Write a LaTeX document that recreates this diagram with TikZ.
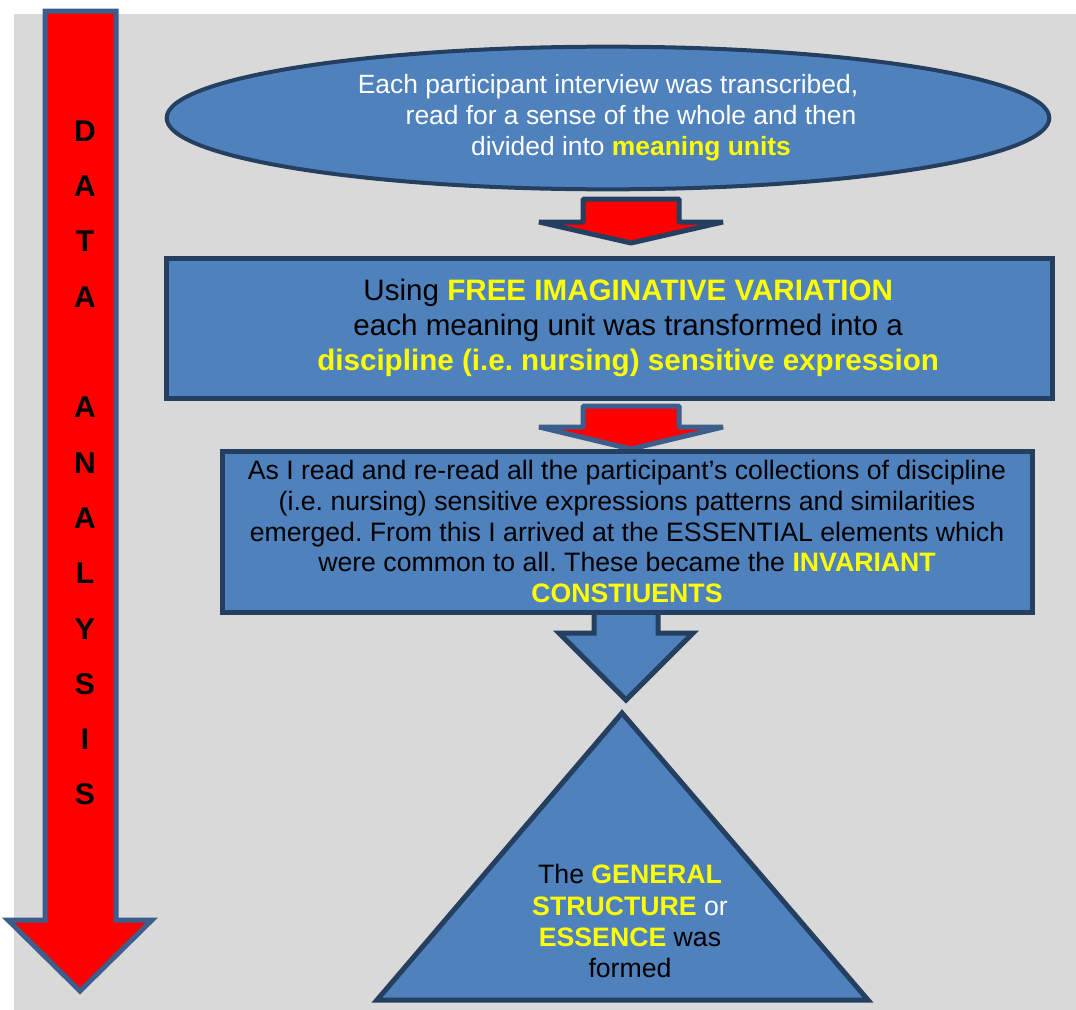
\documentclass[tikz,border=0pt]{standalone}
\usepackage{fontspec}
\setmainfont{Liberation Sans}
\usepackage{tikz}
\usetikzlibrary{shapes.geometric, positioning}
\usepackage{xcolor}
\definecolor{bggray}{HTML}{D9D9D9}
\definecolor{boxblue}{HTML}{4F81BD}
\definecolor{darkline}{HTML}{243F60}
\definecolor{midline}{HTML}{3B5E8C}
\definecolor{hilite}{HTML}{FFFF00}
\newcommand{\hl}[1]{\textbf{\color{hilite}#1}}
\frenchspacing
\tikzset{%
	every stage/.style={
		draw=darkline,
		fill=boxblue,
		line width=3.75pt,
		inner sep=0pt,
		align=center
	},
	stage ellipse/.style={
		ellipse,
		line width=3pt,
		minimum width=662pt,
		minimum height=107pt,
		text=white,
		font=\fontsize{19.8}{23.3}\selectfont
	},
	stage variation/.style={
		rectangle,
		minimum width=664pt,
		minimum height=105pt,
		font=\fontsize{22.2}{26.2}\selectfont
	},
	stage constituents/.style={
		rectangle,
		minimum width=607.5pt,
		minimum height=120.75pt,
		font=\fontsize{20}{23.2}\selectfont
	},
	red arrow/.style={
		fill=red,
		line width=3.75pt,
		line join=bevel
	},
	letter/.style={
		font=\fontsize{22.5}{24}\selectfont\bfseries
	}
}
\begin{document}
\begin{tikzpicture}[x=0.75pt, y=-0.75pt]
	\useasboundingbox (0,0) rectangle (1076,1010);
	\fill[bggray] (14,14) rectangle (1076,1010);

	% big arrow on the left
	\draw[red arrow, line join=miter, draw=midline] (45,11) -- (116,11) -- (116,920) -- (152,920)
		-- (80,991) -- (8,920) -- (45,920) -- cycle;
	\foreach \l [count=\i from 0] in {D,A,T,A,{},A,N,A,L,Y,S,I,S}
	\node [letter] (letter-\i) at (85,131+\i*55.3) {\l};

	\node [every stage, stage ellipse] (interview) at (608,118)
		{Each participant interview was transcribed,\\
		\hspace*{34.5pt}read for a sense of the whole and then\\
		\hspace*{34.5pt}divided into \hl{meaning units}};

	\draw[red arrow, draw=darkline] (583,199) -- (679,199) -- (679,222) -- (723,222)
		-- (631,243) -- (539,222) -- (583,222) -- cycle;

	\node [every stage, stage variation] (variation) at (609.5,328)
		{\hspace*{28pt}Using \hl{FREE IMAGINATIVE VARIATION}\\
		\hspace*{28pt}each meaning unit was transformed into a\\
		\hspace*{28pt}\hl{discipline (i.e. nursing) sensitive expression}};

	\draw[red arrow, draw=midline] (583,406) -- (679,406) -- (679,427) -- (723,427)
		-- (631,449) -- (539,427) -- (583,427) -- cycle;

	% blue arrow sits under the box
	\draw[every stage] (594,600) -- (658,600) -- (658,633) -- (693,633)
		-- (626,700) -- (559,633) -- (594,633) -- cycle;

	\node [every stage, stage constituents] (constituents) at (627,531.5)
		{As I read and re-read all the participant’s collections of discipline\\
		(i.e. nursing) sensitive expressions patterns and similarities\\
		emerged. From this I arrived at the ESSENTIAL elements which\\
		were common to all. These became the \hl{INVARIANT}\\
		\hl{CONSTIUENTS}};

	\draw[every stage] (622,713) -- (868,1000) -- (377,1000) -- cycle;
	\node [align=center, font=\fontsize{20}{23.3}\selectfont] (essence) at (630,921)
		{The \hl{GENERAL}\\
		\hl{STRUCTURE} \textcolor{white}{or}\\
		\hl{ESSENCE} was\\
		formed};

\end{tikzpicture}
\end{document}
